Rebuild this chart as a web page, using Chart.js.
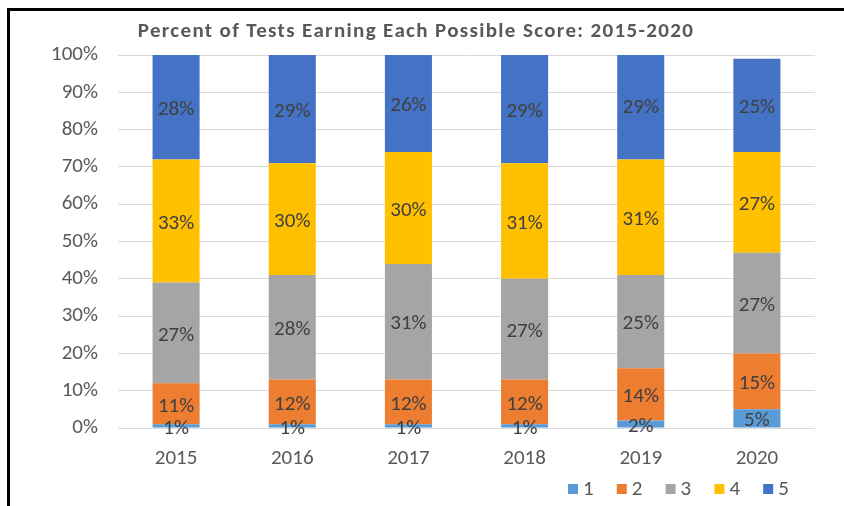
<!DOCTYPE html>
<html>
<head>
<meta charset="utf-8">
<script src="https://cdn.jsdelivr.net/npm/chart.js@4"></script>
<style>
  html, body { margin: 0; padding: 0; background: #fff; }
  #wrap { position: relative; width: 844px; height: 506px; }
</style>
</head>
<body>
<div id="wrap"><canvas id="scoreChart" width="844" height="506"></canvas></div>
<script>
const years = ['2015', '2016', '2017', '2018', '2019', '2020'];
const score1 = [1, 1, 1, 1, 2, 5];
const score2 = [11, 12, 12, 12, 14, 15];
const score3 = [27, 28, 31, 27, 25, 27];
const score4 = [33, 30, 30, 31, 31, 27];
const score5 = [28, 29, 26, 29, 29, 25];
const scoreNames = ['1', '2', '3', '4', '5'];
const scoreColors = ['#5B9BD5', '#ED7D31', '#A5A5A5', '#FFC000', '#4472C4'];
const chartTitle = 'Percent of Tests Earning Each Possible Score: 2015-2020';

const FONT = '"Liberation Sans Narrow", Carlito, "DejaVu Sans Condensed", sans-serif';
const TEXT = '#595959';

document.addEventListener('DOMContentLoaded', function () {

    // frame, title, value labels and legend
    const extras = {
        id: 'extras',
        afterDatasetsDraw(chart) {
            const ctx = chart.ctx;
            ctx.save();
            ctx.font = '21px ' + FONT;
            ctx.fillStyle = '#404040';
            ctx.textAlign = 'center';
            ctx.textBaseline = 'middle';
            chart.data.datasets.forEach(function (ds, i) {
                chart.getDatasetMeta(i).data.forEach(function (bar, j) {
                    const mid = (bar.y + bar.base) / 2;
                    ctx.fillText(ds.data[j] + '%', bar.x, mid + 2.5);
                });
            });
            ctx.restore();
        },
        afterDraw(chart) {
            const ctx = chart.ctx;
            ctx.save();
            // frame lines
            ctx.fillStyle = '#000';
            ctx.fillRect(7, 8, 837, 3);
            ctx.fillRect(7, 8, 3, 498);

            // title
            ctx.font = 'bold 21px ' + FONT;
            ctx.fillStyle = TEXT;
            ctx.textAlign = 'left';
            ctx.textBaseline = 'middle';
            ctx.letterSpacing = '1.35px';
            const w = ctx.measureText(chartTitle).width;
            ctx.fillText(chartTitle, 416 - w / 2, 32);
            ctx.letterSpacing = '0px';

            // legend
            ctx.font = '21px ' + FONT;
            let x = 568;
            scoreNames.forEach(function (name, i) {
                ctx.fillStyle = scoreColors[i];
                ctx.fillRect(x, 484, 10, 10);
                ctx.fillStyle = TEXT;
                ctx.fillText(name, x + 15, 490);
                x += 48.8;
            });
            ctx.restore();
        }
    };

    const series = [score1, score2, score3, score4, score5];
    const ctx = document.getElementById('scoreChart').getContext('2d');
    const scoreChart = new Chart(ctx, {
        type: 'bar',
        data: {
            labels: years,
            datasets: series.map(function (vals, i) {
                return {
                    label: scoreNames[i],
                    data: vals,
                    backgroundColor: scoreColors[i],
                    borderWidth: 0,
                    categoryPercentage: 1,
                    barPercentage: 0.405
                };
            })
        },
        options: {
            responsive: false,
            animation: false,
            layout: { padding: { left: 10, top: 55, right: 29, bottom: 0 } },
            plugins: {
                legend: { display: false },
                title: { display: false },
                tooltip: { enabled: false }
            },
            scales: {
                x: {
                    stacked: true,
                    grid: { display: false },
                    border: { display: false },
                    ticks: { color: TEXT, font: { family: FONT, size: 21 }, padding: 10 },
                    afterFit: function (scale) { scale.height = 78; }
                },
                y: {
                    stacked: true,
                    min: 0,
                    max: 100,
                    grid: { color: '#d9d9d9', drawTicks: false },
                    border: { display: false },
                    ticks: {
                        stepSize: 10,
                        color: TEXT,
                        font: { family: FONT, size: 21 },
                        padding: 20,
                        callback: function (v) { return v + '%'; }
                    },
                    afterFit: function (scale) { scale.width = 108; }
                }
            }
        },
        plugins: [extras]
    });
});
</script>
</body>
</html>
